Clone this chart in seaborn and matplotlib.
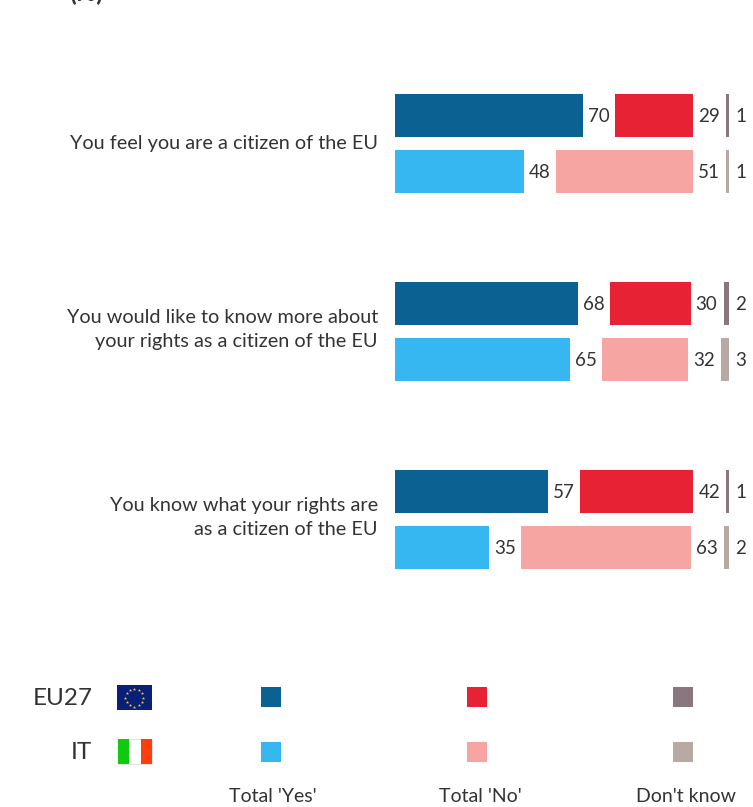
import numpy as np
import pandas as pd
import seaborn as sns
import matplotlib.pyplot as plt
from matplotlib.patches import Rectangle

questions = ["You feel you are a citizen of the EU",
             "You would like to know more about\nyour rights as a citizen of the EU",
             "You know what your rights are\nas a citizen of the EU"]
yes_eu = [70, 68, 57]
no_eu = [29, 30, 42]
dk_eu = [1, 2, 1]
yes_it = [48, 65, 35]
no_it = [51, 32, 63]
dk_it = [1, 3, 2]

legend_cols = ["Total 'Yes'", "Total 'No'", "Don't know"]
colors_eu = ["#0B6292", "#E72235", "#8A767E"]
colors_it = ["#36B7F2", "#F6A5A3", "#B8A9A3"]
text_col = "#333333"

# layout in pixels of the 753x807 picture
W, H = 753, 807
X0 = 395
PX_PER_UNIT = 2.69
GAP = 32 / PX_PER_UNIT
DK_END = (729 - X0) / PX_PER_UNIT
BAR_H = 43
STEP = 188
Y_EU = 115.7
Y_IT = 171.7

sns.set_style("white")
plt.rcParams["font.family"] = ["Lato", "DejaVu Sans"]

fig = plt.figure(figsize=(W / 100, H / 100), dpi=100)
ax = fig.add_axes([0, 0, 1, 1])


def draw_row(y0, yes, no, dk, colors):
    yes = np.array(yes)
    no = np.array(no)
    dk = np.array(dk)
    ys = y0 + np.arange(3) * STEP
    w = BAR_H / STEP
    parts = [(yes, np.zeros(3)), (no, yes + GAP), (dk, DK_END - dk)]
    for (vals, left), c in zip(parts, colors):
        sns.barplot(x=vals, y=ys, left=left, orient="y", native_scale=True, width=w,
                    color=c, saturation=1, errorbar=None, linewidth=0, ax=ax)
    # value labels
    for i in range(3):
        ax.text(yes[i] + 5 / PX_PER_UNIT, ys[i] + 1, str(yes[i]), va="center", ha="left",
                fontsize=13.5, color=text_col)
        ax.text(yes[i] + GAP + no[i] + 5 / PX_PER_UNIT, ys[i] + 1, str(no[i]), va="center", ha="left",
                fontsize=13.5, color=text_col)
        ax.text(DK_END + 6 / PX_PER_UNIT, ys[i] + 1, str(dk[i]), va="center", ha="left",
                fontsize=13.5, color=text_col)


draw_row(Y_EU, yes_eu, no_eu, dk_eu, colors_eu)
draw_row(Y_IT, yes_it, no_it, dk_it, colors_it)

ax.set_xlim(-X0 / PX_PER_UNIT, (W - X0) / PX_PER_UNIT)
ax.set_ylim(H, 0)
ax.axis("off")

# overlay in pixel coordinates for question text and legend
px = fig.add_axes([0, 0, 1, 1], facecolor="none")
px.set_xlim(0, W)
px.set_ylim(H, 0)
px.axis("off")

px.text(69, 1, "(%)", fontsize=18, fontweight="bold", color=text_col, va="baseline")

for i, q in enumerate(questions):
    qy = 141.5 + i * STEP if "\n" in q else 144
    px.text(378, qy, q, ha="right", va="center", fontsize=14.3, color=text_col, linespacing=1.45)

# legend rows
px.text(92.5, 698.5, "EU27", ha="right", va="center", fontsize=17.5, color=text_col)
px.text(92.5, 752.5, "IT", ha="right", va="center", fontsize=17.5, color=text_col)

legend_x = [271.5, 477.5, 683.5]
for x, c1, c2 in zip(legend_x, colors_eu, colors_it):
    px.add_patch(Rectangle((x - 10, 687), 20, 20, color=c1, lw=0))
    px.add_patch(Rectangle((x - 10, 741.5), 20, 20, color=c2, lw=0))
for x, lab in zip([273, 480, 686], legend_cols):
    px.text(x, 797, lab, ha="center", va="center", fontsize=14, color=text_col)

# EU flag
px.add_patch(Rectangle((117, 685), 35, 25, color="#0A1F7A", lw=0))
ang = np.arange(12) * np.pi / 6
px.scatter(134.5 + 9 * np.cos(ang), 697.5 + 9 * np.sin(ang), marker="*", s=6, color="#F2D21F", linewidths=0)

# IT flag
px.add_patch(Rectangle((118, 739), 34.5, 25, facecolor="white", edgecolor="#E4E4E4", lw=0.8))
px.add_patch(Rectangle((118, 739), 11.5, 25, color="#0FCB0F", lw=0))
px.add_patch(Rectangle((141, 739), 11.5, 25, color="#FF3D0D", lw=0))

fig.savefig("out.png", dpi=100)
